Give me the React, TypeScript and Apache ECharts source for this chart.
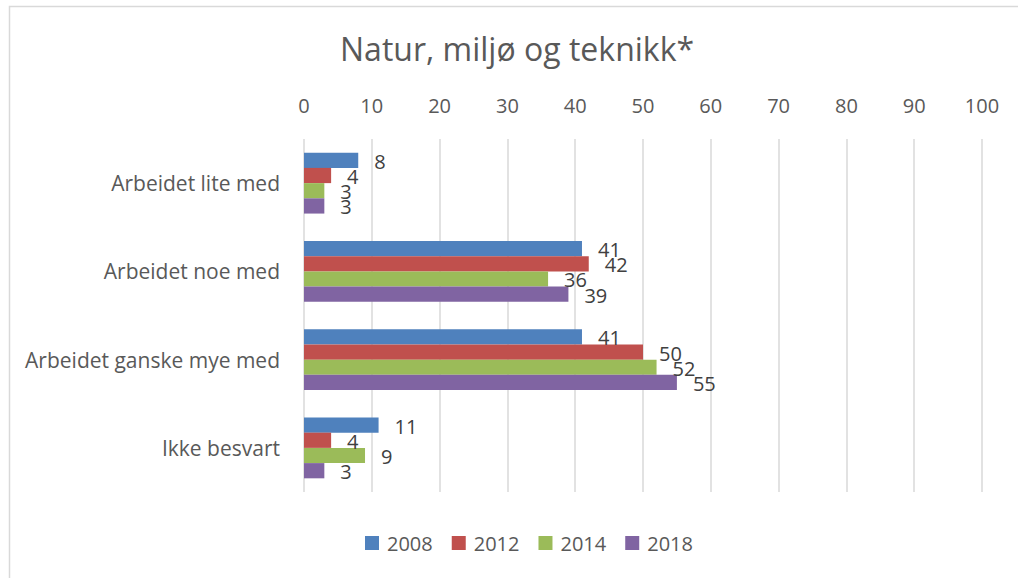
import React, { useEffect, useRef } from "react";
import * as echarts from "echarts";

const categories = ["Arbeidet lite med", "Arbeidet noe med", "Arbeidet ganske mye med", "Ikke besvart"];
const years = ["2008", "2012", "2014", "2018"];
const s2008 = [8, 41, 41, 11];
const s2012 = [4, 42, 50, 4];
const s2014 = [3, 36, 52, 9];
const s2018 = [3, 39, 55, 3];
const colors = ["#4F81BD", "#C0504D", "#9BBB59", "#8064A2"];

export default function App() {
  const ref = useRef<HTMLDivElement>(null);
  useEffect(() => {
    const chart = echarts.init(ref.current!, null, { renderer: "svg" });
    const seriesData = [s2008, s2012, s2014, s2018];
    const font = "'Open Sans', 'Liberation Sans', sans-serif";
    chart.setOption({
      animation: false,
      textStyle: { fontFamily: font },
      title: {
        text: "Natur, miljø og teknikk*",
        left: 335,
        top: 27,
        textStyle: { fontSize: 32, fontWeight: "normal", color: "#595959", fontFamily: font },
      },
      graphic: [
        {
          type: "rect",
          shape: { x: 9.5, y: 6.5, width: 1030, height: 600 },
          style: { fill: "none", stroke: "#d9d9d9", lineWidth: 1.5 },
          silent: true,
        },
      ],
      legend: {
        bottom: 20,
        left: 360,
        itemWidth: 14,
        itemHeight: 14,
        itemGap: 19,
        icon: "rect",
        textStyle: { fontSize: 20, color: "#595959", fontFamily: font, padding: [0, 0, 0, 3] },
        data: years,
      },
      grid: { left: 304, right: 36, top: 139, bottom: 86 },
      xAxis: {
        type: "value",
        position: "top",
        min: 0,
        max: 100,
        interval: 10,
        axisLine: { show: false },
        axisTick: { show: false },
        axisLabel: { fontSize: 20, color: "#595959", margin: 24, fontFamily: font },
        splitLine: { lineStyle: { color: "#d9d9d9", width: 1.5 } },
      },
      yAxis: {
        type: "category",
        inverse: true,
        data: categories,
        axisLine: { show: false },
        axisTick: { show: false },
        axisLabel: { fontSize: 21, color: "#595959", margin: 24, fontFamily: font },
      },
      series: years.map((y, i) => ({
        name: y,
        type: "bar",
        data: seriesData[i],
        barGap: "0%",
        barCategoryGap: "31%",
        itemStyle: { color: colors[i] },
        label: {
          show: true,
          position: "right",
          distance: 16,
          offset: [0, 1],
          fontSize: 20,
          color: "#404040",
          fontFamily: font,
        },
      })),
    });
    return () => chart.dispose();
  }, []);
  return <div ref={ref} style={{ width: 1018, height: 578, position: "absolute", left: 0, top: 0 }} />;
}
